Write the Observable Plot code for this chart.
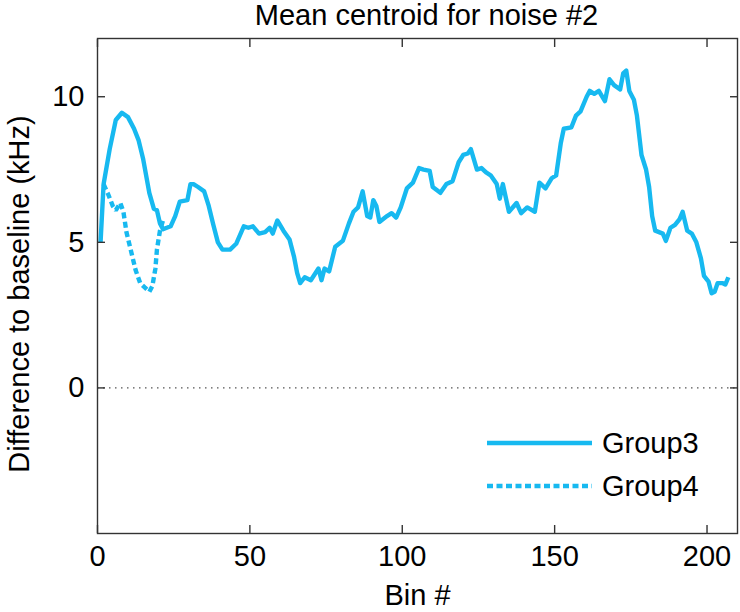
<!DOCTYPE html>
<html><head><meta charset="utf-8">
<script src="https://cdn.jsdelivr.net/npm/d3@7"></script>
<script src="https://cdn.jsdelivr.net/npm/@observablehq/plot@0.6"></script>
<style>body{margin:0;background:#fff}</style>
</head><body><div id="chart"></div>
<script>
const title = "Mean centroid for noise #2";
const xLabel = "Bin #";
const yLabel = "Difference to baseline (kHz)";
const xTicks = [0, 50, 100, 150, 200];
const yTicks = [0, 5, 10];
const seriesNames = ["Group3", "Group4"];

const group3X = [1, 2, 4, 6, 8, 10, 12, 13.5, 15, 17, 18.5, 19.5, 20.5, 21.5, 24, 25.5, 27, 29.5, 30.5, 31.5, 33, 35, 36.5, 38, 39.5, 41, 43.5, 45.5, 48, 49.5, 51, 53, 55, 56.5, 57.5, 59, 61, 63, 64.5, 65.5, 66.5, 68, 70, 72.5, 73.5, 74.5, 76, 78, 80.5, 82.5, 84, 85.5, 87, 88.5, 89.5, 90.5, 91.5, 92.5, 95, 96.5, 98, 99.5, 101.5, 103.5, 105.5, 107, 109, 110, 112.5, 114.5, 116.5, 118.5, 120, 121.5, 122.5, 124.5, 126, 127.5, 129, 131, 132, 133, 135, 137.5, 139, 141, 143.5, 145, 147, 149, 150.5, 152, 153, 155.5, 157, 158.5, 160.5, 161.5, 163, 164.5, 166.5, 168, 169.5, 171.5, 172.5, 173.5, 174.5, 176, 177, 178.5, 180, 181, 182, 183, 185.5, 186.5, 188, 189.5, 191, 192, 193.5, 195, 196.5, 198, 199, 200.5, 201.5, 202.5, 203.5, 205, 206, 207];
const group3Y = [5.0, 7.0, 8.2, 9.2, 9.45, 9.3, 8.9, 8.5, 7.85, 6.7, 6.15, 6.1, 5.65, 5.45, 5.55, 5.9, 6.4, 6.45, 7.0, 7.0, 6.9, 6.75, 6.25, 5.6, 5.0, 4.75, 4.75, 4.95, 5.55, 5.5, 5.55, 5.3, 5.35, 5.5, 5.3, 5.75, 5.4, 5.1, 4.5, 3.95, 3.6, 3.8, 3.7, 4.1, 3.7, 4.1, 4.0, 4.85, 5.05, 5.65, 6.05, 6.2, 6.75, 5.9, 5.85, 6.45, 6.25, 5.7, 5.9, 6.0, 5.85, 6.2, 6.85, 7.05, 7.55, 7.5, 7.45, 6.9, 6.7, 7.0, 7.1, 7.75, 8.0, 8.05, 8.2, 7.5, 7.55, 7.4, 7.3, 7.0, 6.5, 7.0, 6.05, 6.35, 6.0, 6.2, 6.05, 7.05, 6.85, 7.2, 7.3, 8.4, 8.9, 8.95, 9.35, 9.5, 10.0, 10.2, 10.1, 10.2, 9.85, 10.6, 10.4, 10.25, 10.8, 10.9, 10.2, 9.9, 9.35, 8.0, 7.5, 6.9, 5.9, 5.4, 5.3, 5.05, 5.5, 5.6, 5.8, 6.05, 5.4, 5.3, 5.0, 4.45, 3.85, 3.65, 3.25, 3.3, 3.6, 3.6, 3.55, 3.8];

const group4X = [2, 3.5, 5, 6, 7.5, 8.5, 9.5, 11, 12.5, 14, 15.5, 17, 18, 19, 19.5, 20.5, 21.5];
const group4Y = [7.0, 6.65, 6.25, 6.1, 6.35, 6.05, 5.35, 4.7, 4.05, 3.6, 3.45, 3.3, 3.5, 4.1, 4.75, 5.4, 5.75];

const color = "#17b9f0";
const font = "'Liberation Sans', Arial, Helvetica, sans-serif";
const fs = 29;
const lw = 4.4;
const dash = "6,3.5";
const g3 = group3X.map((x, i) => ({x, y: group3Y[i]}));
const g4 = group4X.map((x, i) => ({x, y: group4Y[i]}));

const W = 740, H = 612, mL = 97, mR = 3, mT = 38, mB = 79;

const plot = Plot.plot({
  width: W, height: H, marginLeft: mL, marginRight: mR, marginTop: mT, marginBottom: mB,
  style: {fontFamily: font, fontSize: fs + "px", color: "#000", background: "#fff"},
  x: {domain: [0, 210]},
  y: {domain: [-5, 12]},
  marks: [
    Plot.ruleY([0], {stroke: "#555", strokeWidth: 1.3, strokeDasharray: "1.5,4.5"}),
    Plot.line(g3, {x: "x", y: "y", stroke: color, strokeWidth: lw, strokeLinejoin: "round", strokeLinecap: "butt"}),
    Plot.line(g4, {x: "x", y: "y", stroke: color, strokeWidth: lw, strokeLinejoin: "miter", strokeLinecap: "butt", strokeDasharray: dash}),
    Plot.frame({stroke: "#333", strokeWidth: 1.4}),
    Plot.axisX({ticks: xTicks, tickSize: -8, tickPadding: 20, label: null, stroke: "#333", strokeWidth: 1.4}),
    Plot.axisX({anchor: "top", ticks: xTicks, tickSize: -8, tickFormat: () => "", label: null, stroke: "#333", strokeWidth: 1.4}),
    Plot.axisY({ticks: yTicks, tickSize: -8, tickPadding: 21, label: null, stroke: "#333", strokeWidth: 1.4}),
    Plot.axisY({anchor: "right", ticks: yTicks, tickSize: -8, tickFormat: () => "", label: null, stroke: "#333", strokeWidth: 1.4}),
    Plot.text([title], {frameAnchor: "top", textAnchor: "middle", lineAnchor: "bottom", dx: 9, dy: -14}),
    Plot.text([xLabel], {frameAnchor: "bottom", textAnchor: "middle", lineAnchor: "bottom", dy: 71}),
    Plot.text([yLabel], {frameAnchor: "left", textAnchor: "middle", lineAnchor: "bottom", rotate: -90, dx: -69, dy: 8})
  ]
});

// legend (inside the axes, lower right)
const svg = d3.select(plot);
const right = W - mR;
const leg = svg.append("g").attr("font-family", font).attr("font-size", fs).attr("text-anchor", "start");
const legendRows = [
  {name: seriesNames[0], dash: null, y: 443},
  {name: seriesNames[1], dash: dash, y: 486}
];
for (const r of legendRows) {
  leg.append("line").attr("x1", right - 250).attr("x2", right - 145).attr("y1", r.y).attr("y2", r.y)
    .attr("stroke", color).attr("stroke-width", lw).attr("stroke-dasharray", r.dash);
  leg.append("text").attr("x", right - 135).attr("y", r.y).attr("dy", "0.35em").attr("fill", "#000").text(r.name);
}
document.getElementById("chart").appendChild(plot);
</script>
</body></html>
